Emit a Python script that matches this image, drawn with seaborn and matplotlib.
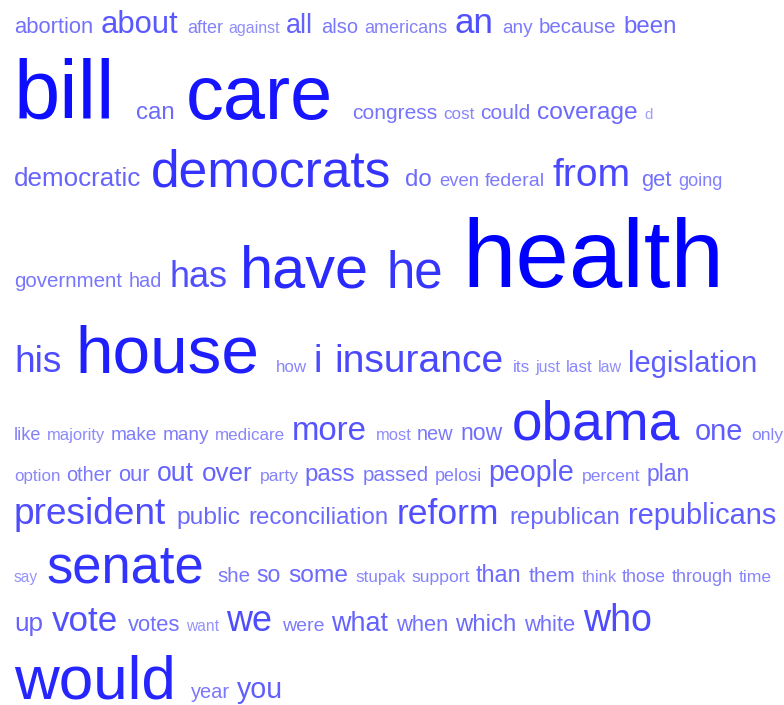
import numpy as np
import pandas as pd
import matplotlib
matplotlib.use('Agg')
import matplotlib.pyplot as plt
import seaborn as sns
from matplotlib.colors import LinearSegmentedColormap, PowerNorm

# words of the tag cloud, alphabetical
words = ['abortion', 'about', 'after', 'against', 'all', 'also', 'americans', 'an', 'any', 'because', 'been',
         'bill', 'can', 'care', 'congress', 'cost', 'could', 'coverage', 'd',
         'democratic', 'democrats', 'do', 'even', 'federal', 'from', 'get', 'going',
         'government', 'had', 'has', 'have', 'he', 'health',
         'his', 'house', 'how', 'i', 'insurance', 'its', 'just', 'last', 'law', 'legislation',
         'like', 'majority', 'make', 'many', 'medicare', 'more', 'most', 'new', 'now', 'obama', 'one', 'only',
         'option', 'other', 'our', 'out', 'over', 'party', 'pass', 'passed', 'pelosi', 'people', 'percent', 'plan',
         'president', 'public', 'reconciliation', 'reform', 'republican', 'republicans',
         'say', 'senate', 'she', 'so', 'some', 'stupak', 'support', 'than', 'them', 'think', 'those', 'through', 'time',
         'up', 'vote', 'votes', 'want', 'we', 'were', 'what', 'when', 'which', 'white', 'who',
         'would', 'year', 'you']

# weight of each word (font size in px)
weights = [22, 31, 18, 16, 27, 20, 18, 35, 19, 20.5, 24,
           83, 24, 75.5, 21, 17, 21, 24.5, 15,
           26, 51.5, 24, 18.5, 19.5, 39, 22, 18,
           20.5, 20, 36, 59.5, 51, 96,
           37, 67.5, 17, 38, 39, 17, 16, 17, 16, 29,
           18, 16.5, 19, 19, 17, 33, 16.5, 20, 23, 55, 29, 17.5,
           17, 20, 22, 26.5, 26, 17.5, 24, 20.5, 18, 28.5, 17.5, 23,
           37, 24.5, 24, 35.5, 24, 29,
           15.5, 52.5, 20.5, 23, 24.5, 17, 17.5, 23.5, 21, 16.5, 18, 18, 17.5,
           26, 35, 22, 15.5, 36, 19.5, 27, 22, 24, 22, 37.5,
           62, 20, 28.5]

df = pd.DataFrame({'word': words, 'weight': weights})

sns.set_theme(style='white')
plt.rcParams['font.family'] = ['Liberation Sans', 'DejaVu Sans']

W, H = 784, 705
fig = plt.figure(figsize=(W / 100, H / 100), dpi=100)
ax = fig.add_axes([0, 0, 1, 1])
ax.set_xlim(0, W)
ax.set_ylim(H, 0)
ax.axis('off')

# colour goes from light lavender (rare) to pure blue (frequent)
cmap = LinearSegmentedColormap.from_list('tags', ['#a29ffb', '#0000ff'])
norm = PowerNorm(0.5, vmin=df['weight'].min(), vmax=df['weight'].max())

texts = [ax.text(0, 0, w, fontsize=s * 0.72, color=cmap(norm(s)),
                 va='baseline', ha='left')
         for w, s in zip(df['word'], df['weight'])]

fig.canvas.draw()
renderer = fig.canvas.get_renderer()
df['width'] = [t.get_window_extent(renderer).width for t in texts]

# =============================================================================
# flow layout: wrap words into rows like an html tag cloud
# =============================================================================
left, right = 14, 784
rows = [[]]
x = left
for i, row in df.iterrows():
    if rows[-1]:
        prev = df.loc[rows[-1][-1]]
        # space of the previous word plus side bearings of both glyph runs
        gap = 0.22 * prev['weight'] + 0.08 * row['weight'] + 0.27
        if x + gap + row['width'] > right:
            rows.append([])
            x = left
        else:
            x += gap
    rows[-1].append(i)
    df.loc[i, 'x'] = x
    x += row['width']

baseline = 0
prev_max = None
for r in rows:
    cur_max = df.loc[r, 'weight'].max()
    if prev_max is None:
        baseline = 0.905 * cur_max + 1
    else:
        baseline += 0.212 * prev_max + 0.905 * cur_max + 3.4
    df.loc[r, 'y'] = baseline
    prev_max = cur_max

for t, (_, row) in zip(texts, df.iterrows()):
    t.set_position((row['x'], row['y']))

fig.savefig('out.png', dpi=100, facecolor='white')
